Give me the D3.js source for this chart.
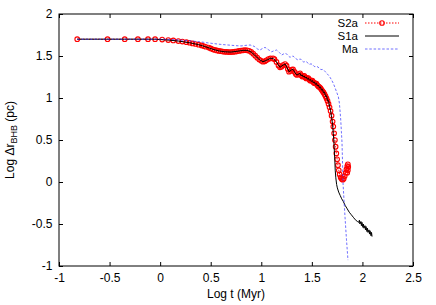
<!DOCTYPE html>
<html>
<head>
<meta charset="utf-8">
<script src="https://cdn.jsdelivr.net/npm/d3@7"></script>
<style>
  html, body { margin: 0; padding: 0; background: #fff; }
  svg { display: block; }
  text { font-family: "Liberation Sans", Arial, Helvetica, sans-serif; }
</style>
</head>
<body>
<svg id="chart" width="436" height="305"></svg>
<script>
// ---- data (log t [Myr], log Δr [pc]) ----
const xTicks = [-1, -0.5, 0, 0.5, 1, 1.5, 2, 2.5];
const yTicks = [-1, -0.5, 0, 0.5, 1, 1.5, 2];
const xTickLabels = ["-1", "-0.5", "0", "0.5", "1", "1.5", "2", "2.5"];
const yTickLabels = ["-1", "-0.5", "0", "0.5", "1", "1.5", "2"];
const seriesNames = ["S2a", "S1a", "Ma"];

const s2a = [
  [-0.82,1.70],[-0.52,1.70],[-0.35,1.70],[-0.22,1.70],[-0.12,1.70],[-0.05,1.70],
  [0.02,1.695],[0.08,1.69],[0.13,1.685],[0.18,1.678],[0.22,1.672],[0.26,1.665],
  [0.29,1.658],[0.32,1.65],[0.35,1.643],[0.38,1.635],[0.41,1.626],[0.43,1.618],
  [0.45,1.61],[0.48,1.60],[0.50,1.59],[0.52,1.58],[0.54,1.572],[0.56,1.566],
  [0.58,1.561],[0.60,1.557],[0.62,1.553],[0.64,1.55],[0.66,1.548],[0.68,1.547],
  [0.70,1.547],[0.72,1.549],[0.74,1.552],[0.76,1.556],[0.78,1.56],[0.80,1.564],
  [0.82,1.567],[0.84,1.569],[0.86,1.567],[0.88,1.562],[0.90,1.548],[0.92,1.528],
  [0.94,1.504],[0.96,1.480],[0.98,1.458],[1.00,1.442],[1.017,1.432],[1.035,1.437],
  [1.05,1.448],[1.07,1.463],[1.09,1.471],[1.116,1.472],[1.13,1.462],[1.15,1.430],
  [1.17,1.388],[1.185,1.365],[1.20,1.372],[1.215,1.392],[1.235,1.405],[1.25,1.385],
  [1.262,1.345],[1.274,1.313],[1.29,1.322],[1.302,1.337],[1.314,1.341],[1.33,1.31],
  [1.341,1.285],[1.353,1.274],[1.368,1.285],[1.383,1.294],[1.395,1.272],[1.405,1.255],
  [1.415,1.262],[1.425,1.265],[1.435,1.245],[1.445,1.232],[1.455,1.236],[1.465,1.238],
  [1.475,1.218],[1.485,1.206],[1.495,1.207],[1.505,1.206],[1.515,1.188],[1.525,1.176],
  [1.535,1.175],[1.545,1.170],[1.555,1.152],[1.565,1.138],[1.575,1.130],[1.585,1.118],
  [1.595,1.100],[1.605,1.082],[1.615,1.066],[1.625,1.046],[1.635,1.022],[1.645,0.995],
  [1.655,0.965],[1.665,0.93],[1.675,0.89],[1.685,0.845],[1.695,0.79],[1.705,0.72],
  [1.712,0.66],[1.72,0.58],[1.728,0.50],[1.735,0.42],[1.742,0.34],[1.75,0.27],
  [1.758,0.20],[1.766,0.14],[1.775,0.09],[1.785,0.055],[1.795,0.035],[1.805,0.028],
  [1.815,0.04],[1.825,0.07],[1.835,0.11],[1.842,0.15],[1.85,0.19],[1.856,0.21],
  [1.86,0.18],[1.856,0.14],[1.85,0.11]
];

const s1a = [
  [-0.82,1.70],[-0.35,1.70],[-0.05,1.70],[0.08,1.69],[0.18,1.678],[0.29,1.658],
  [0.38,1.635],[0.45,1.61],[0.52,1.58],[0.58,1.561],[0.64,1.55],[0.70,1.547],
  [0.76,1.556],[0.82,1.567],[0.86,1.567],[0.90,1.548],[0.94,1.504],[0.98,1.458],
  [1.017,1.432],[1.05,1.448],[1.09,1.471],[1.116,1.472],[1.15,1.430],[1.185,1.365],
  [1.215,1.392],[1.235,1.405],[1.262,1.345],[1.274,1.313],[1.302,1.337],[1.314,1.341],
  [1.341,1.285],[1.353,1.274],[1.383,1.294],[1.395,1.262],[1.405,1.275],[1.415,1.250],
  [1.425,1.262],[1.435,1.237],[1.445,1.250],[1.455,1.224],[1.465,1.236],[1.475,1.210],
  [1.485,1.222],[1.495,1.196],[1.505,1.208],[1.515,1.180],[1.525,1.192],[1.535,1.163],
  [1.545,1.175],[1.555,1.143],[1.565,1.155],[1.575,1.122],[1.585,1.132],[1.595,1.094],
  [1.605,1.104],[1.615,1.062],[1.625,1.07],[1.635,1.02],[1.645,1.025],[1.655,0.968],
  [1.665,0.97],[1.675,0.90],[1.685,0.85],[1.695,0.77],[1.705,0.68],[1.712,0.58],
  [1.718,0.48],[1.722,0.38],[1.727,0.26],[1.731,0.14],[1.737,0.05],[1.745,-0.03],
  [1.752,-0.07],[1.765,-0.12],[1.78,-0.16],[1.795,-0.20],[1.81,-0.23],[1.83,-0.28],
  [1.85,-0.32],[1.87,-0.36],[1.89,-0.39],[1.91,-0.42],[1.93,-0.45],[1.95,-0.47],
  [1.965,-0.48],[1.97,-0.455],[1.975,-0.50],[1.985,-0.47],[1.99,-0.52],[1.995,-0.48],
  [2.005,-0.54],[2.01,-0.50],[2.015,-0.55],[2.025,-0.52],[2.03,-0.57],[2.035,-0.53],
  [2.045,-0.59],[2.05,-0.55],[2.055,-0.60],[2.065,-0.57],[2.07,-0.62],[2.075,-0.58],
  [2.085,-0.64],[2.09,-0.60],[2.095,-0.65]
];

const ma = [
  [-0.82,1.70],[-0.5,1.70],[0,1.70],[0.1,1.698],[0.2,1.69],[0.3,1.68],[0.4,1.668],
  [0.5,1.652],[0.6,1.638],[0.7,1.628],[0.76,1.622],[0.80,1.62],[0.85,1.627],
  [0.89,1.631],[0.93,1.615],[0.96,1.585],[0.987,1.571],[1.01,1.588],[1.037,1.603],
  [1.07,1.575],[1.103,1.55],[1.125,1.562],[1.152,1.571],[1.18,1.54],[1.202,1.512],
  [1.222,1.525],[1.244,1.532],[1.264,1.505],[1.284,1.484],[1.30,1.495],[1.314,1.50],
  [1.34,1.47],[1.363,1.452],[1.378,1.462],[1.39,1.463],[1.405,1.44],[1.42,1.428],
  [1.435,1.435],[1.448,1.433],[1.462,1.412],[1.475,1.40],[1.49,1.406],[1.503,1.402],
  [1.518,1.382],[1.53,1.372],[1.545,1.376],[1.56,1.37],[1.575,1.35],[1.59,1.338],
  [1.605,1.34],[1.62,1.33],[1.635,1.31],[1.65,1.29],[1.665,1.27],[1.68,1.245],
  [1.695,1.215],[1.712,1.175],[1.73,1.12],[1.745,1.07],[1.762,1.015],[1.772,0.94],
  [1.778,0.857],[1.785,0.75],[1.792,0.60],[1.798,0.47],[1.803,0.25],[1.808,-0.01],
  [1.818,-0.22],[1.828,-0.42],[1.842,-0.68],[1.857,-0.93]
];

// ---- drawing ----
const svg = d3.select("#chart");
const x = d3.scaleLinear().domain([-1, 2.5]).range([59, 413]);
const y = d3.scaleLinear().domain([-1, 2]).range([266, 14]);
const FS = 12;

const axisStyle = g => {
  g.select(".domain").remove();
  g.selectAll(".tick line").attr("stroke", "#000").attr("stroke-width", 1);
  g.selectAll(".tick text").attr("fill", "#000").style("font-size", FS + "px")
    .style("font-family", '"Liberation Sans", Arial, sans-serif');
};

svg.append("g").attr("transform", `translate(0,${y(-1)})`)
  .call(d3.axisBottom(x).tickValues(xTicks).tickFormat((d, i) => xTickLabels[i])
    .tickSizeInner(-4).tickSizeOuter(0).tickPadding(7.5))
  .call(axisStyle);
svg.append("g").attr("transform", `translate(0,${y(2)})`)
  .call(d3.axisTop(x).tickValues(xTicks).tickFormat("").tickSizeInner(-4).tickSizeOuter(0))
  .call(axisStyle);
svg.append("g").attr("transform", `translate(${x(-1)},0)`)
  .call(d3.axisLeft(y).tickValues(yTicks).tickFormat((d, i) => yTickLabels[i])
    .tickSizeInner(-4).tickSizeOuter(0).tickPadding(6.5))
  .call(axisStyle);
svg.append("g").attr("transform", `translate(${x(2.5)},0)`)
  .call(d3.axisRight(y).tickValues(yTicks).tickFormat("").tickSizeInner(-4).tickSizeOuter(0))
  .call(axisStyle);

svg.append("rect")
  .attr("x", x(-1)).attr("y", y(2))
  .attr("width", x(2.5) - x(-1)).attr("height", y(-1) - y(2))
  .attr("fill", "none").attr("stroke", "#000").attr("stroke-width", 1);

const line = d3.line().x(d => x(d[0])).y(d => y(d[1]));
const plot = svg.append("g");

// S2a
plot.append("path").datum(s2a).attr("d", line)
  .attr("fill", "none").attr("stroke", "#ff0000").attr("stroke-width", 1)
  .attr("stroke-dasharray", "1.5,1.5");
plot.append("g").selectAll("circle").data(s2a).join("circle")
  .attr("cx", d => x(d[0])).attr("cy", d => y(d[1])).attr("r", 2.3)
  .attr("fill", "none").attr("stroke", "#ff0000").attr("stroke-width", 1.1);

// S1a
plot.append("path").datum(s1a).attr("d", line)
  .attr("fill", "none").attr("stroke", "#000").attr("stroke-width", 1);

// Ma
plot.append("path").datum(ma).attr("d", line)
  .attr("fill", "none").attr("stroke", "#3030ff").attr("stroke-width", 0.7)
  .attr("stroke-dasharray", "2.5,1.8");

// legend
const legY = [23, 36, 49];
const LFS = 11.5;
const leg = svg.append("g");
seriesNames.forEach((name, i) => {
  leg.append("text").attr("x", 358).attr("y", legY[i]).attr("dy", "0.35em")
    .attr("text-anchor", "end").style("font-size", LFS + "px").text(name);
});
leg.append("line").attr("x1", 365).attr("x2", 399).attr("y1", legY[0]).attr("y2", legY[0])
  .attr("stroke", "#ff0000").attr("stroke-dasharray", "1.5,1.5");
leg.append("circle").attr("cx", 382).attr("cy", legY[0]).attr("r", 2.3)
  .attr("fill", "none").attr("stroke", "#ff0000").attr("stroke-width", 1.1);
leg.append("line").attr("x1", 365).attr("x2", 399).attr("y1", legY[1]).attr("y2", legY[1])
  .attr("stroke", "#000");
leg.append("line").attr("x1", 365).attr("x2", 399).attr("y1", legY[2]).attr("y2", legY[2])
  .attr("stroke", "#3030ff").attr("stroke-width", 0.7).attr("stroke-dasharray", "2.5,1.8");

// axis labels
svg.append("text").attr("x", 236).attr("y", 298).attr("text-anchor", "middle")
  .style("font-size", FS + "px").text("Log t (Myr)");
const yl = svg.append("text").attr("transform", "translate(14,140) rotate(-90)")
  .attr("text-anchor", "middle").style("font-size", FS + "px");
yl.append("tspan").text("Log Δr");
yl.append("tspan").attr("dy", 3).style("font-size", "9px").text("BHB");
yl.append("tspan").attr("dy", -3).text(" (pc)");
</script>
</body>
</html>
